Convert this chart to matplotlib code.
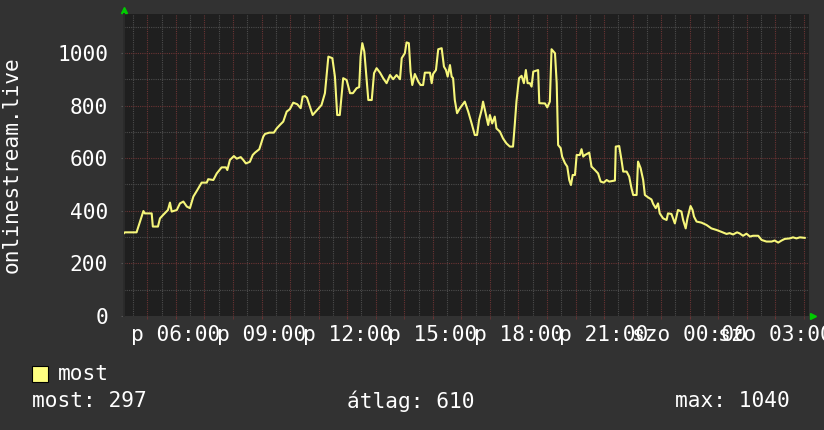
import matplotlib
matplotlib.use('Agg')
import matplotlib.pyplot as plt

# hours since friday 00:00 and concurrent listeners
hours = [4.18, 4.21, 4.62, 4.80, 4.86, 4.91, 5.15, 5.19, 5.37, 5.44,
         5.55, 5.72, 5.79, 5.85, 6.03, 6.14, 6.26, 6.38, 6.49, 6.61,
         6.75, 6.90, 7.08, 7.13, 7.31, 7.43, 7.60, 7.75, 7.80, 7.89,
         8.03, 8.13, 8.27, 8.36, 8.45, 8.59, 8.69, 8.77, 8.92, 9.06,
         9.12, 9.27, 9.43, 9.53, 9.64, 9.76, 9.88, 9.99, 10.11, 10.25,
         10.37, 10.44, 10.52, 10.59, 10.79, 11.10, 11.22, 11.34, 11.48, 11.57,
         11.65, 11.74, 11.86, 11.98, 12.10, 12.20, 12.33, 12.42, 12.47, 12.53,
         12.60, 12.68, 12.74, 12.86, 12.94, 13.03, 13.15, 13.26, 13.38, 13.50,
         13.61, 13.73, 13.85, 13.91, 14.02, 14.08, 14.16, 14.22, 14.28, 14.37,
         14.49, 14.57, 14.66, 14.72, 14.90, 14.96, 15.01, 15.11, 15.19, 15.31,
         15.39, 15.46, 15.52, 15.60, 15.66, 15.71, 15.77, 15.85, 15.95, 16.12,
         16.24, 16.36, 16.47, 16.55, 16.62, 16.71, 16.76, 16.85, 16.94, 17.00,
         17.08, 17.17, 17.23, 17.35, 17.46, 17.58, 17.70, 17.81, 17.87, 17.93,
         18.02, 18.11, 18.19, 18.26, 18.32, 18.40, 18.46, 18.52, 18.69, 18.73,
         18.93, 19.01, 19.10, 19.16, 19.28, 19.34, 19.39, 19.48, 19.53, 19.63,
         19.71, 19.78, 19.84, 19.90, 19.98, 20.04, 20.15, 20.21, 20.27, 20.33,
         20.48, 20.56, 20.68, 20.79, 20.88, 20.99, 21.09, 21.18, 21.38, 21.41,
         21.53, 21.61, 21.67, 21.79, 21.88, 21.96, 22.02, 22.14, 22.19, 22.28,
         22.37, 22.43, 22.54, 22.66, 22.72, 22.81, 22.89, 22.95, 23.07, 23.19,
         23.24, 23.36, 23.48, 23.59, 23.71, 23.77, 23.86, 23.92, 24.03, 24.10,
         24.15, 24.24, 24.41, 24.59, 24.76, 24.94, 25.11, 25.29, 25.40, 25.52,
         25.66, 25.75, 25.87, 25.99, 26.11, 26.22, 26.40, 26.52, 26.69, 26.87,
         26.98, 27.10, 27.22, 27.33, 27.51, 27.62, 27.74, 27.86, 28.03]
users = [315, 318, 318, 378, 399, 390, 390, 340, 340, 371,
         384, 403, 431, 397, 403, 428, 435, 416, 410, 454,
         479, 507, 507, 520, 517, 542, 565, 565, 555, 593,
         608, 598, 604, 593, 580, 586, 612, 621, 634, 682,
         692, 697, 697, 713, 726, 739, 777, 786, 811, 805,
         790, 834, 836, 830, 764, 802, 847, 986, 980, 910,
         764, 764, 904, 897, 847, 847, 866, 870, 986, 1037,
         1005, 897, 821, 821, 923, 942, 925, 904, 885, 916,
         900, 916, 900, 980, 999, 1040, 1037, 929, 878, 920,
         891, 878, 878, 925, 925, 885, 920, 935, 1014, 1018,
         948, 935, 910, 954, 910, 904, 821, 771, 790, 815,
         777, 732, 688, 688, 745, 783, 815, 771, 726, 764,
         732, 758, 713, 701, 675, 656, 644, 644, 726, 815,
         904, 913, 885, 935, 885, 885, 872, 929, 935, 809,
         808, 793, 815, 1014, 999, 885, 650, 638, 606, 581,
         568, 517, 498, 536, 536, 612, 612, 634, 606, 612,
         621, 568, 555, 542, 511, 507, 517, 511, 515, 644,
         646, 593, 549, 549, 530, 486, 460, 460, 587, 562,
         517, 460, 451, 443, 426, 410, 428, 390, 371, 365,
         390, 388, 352, 403, 397, 365, 333, 371, 418, 403,
         378, 359, 355, 346, 333, 327, 320, 312, 315, 310,
         318, 314, 305, 313, 302, 305, 305, 289, 283, 283,
         287, 279, 287, 293, 295, 299, 295, 299, 297]

tick_hours = [6, 9, 12, 15, 18, 21, 24, 27]
tick_labels = ['p 06:00', 'p 09:00', 'p 12:00', 'p 15:00',
               'p 18:00', 'p 21:00', 'szo 00:00', 'szo 03:00']
y_ticks = [0, 200, 400, 600, 800, 1000]
series_name = 'most'
stats = ['most: 297', 'átlag: 610', 'max: 1040']

FONT = 'DejaVu Sans Mono'
FS = 15.2
plt.rcParams['font.family'] = FONT

fig = plt.figure(figsize=(8.24, 4.30), dpi=100, facecolor='#323232')
ax = fig.add_axes([124 / 824, 1 - 316 / 430, 685 / 824, 302 / 430])
ax.set_facecolor('#1f1f1f')
t0 = hours[0]
ax.set_xlim(t0, t0 + 24)
ax.set_ylim(0, 1148)

# grid: gray every 30 min / 100, red every hour / 200
dot = (0, (1, 1))
h = int(t0)
while h <= t0 + 24:
    for x, c in ((h, '#6a3434'), (h + 0.5, '#4c4c4c')):
        if t0 < x < t0 + 24:
            ax.axvline(x, color=c, lw=0.8, ls=dot, zorder=1)
    h += 1
for v in range(100, 1148, 100):
    ax.axhline(v, color='#6a3434' if v % 200 == 0 else '#4c4c4c',
               lw=0.8, ls=dot, zorder=1)

ax.plot(hours, users, color='#f6f67a', lw=1.5, zorder=3)

for s in ax.spines.values():
    s.set_visible(False)
ax.spines['left'].set_visible(True)
ax.spines['left'].set_color('#2b2b2b')
ax.spines['left'].set_linewidth(1.4)

ax.set_xticks(tick_hours)
ax.set_xticklabels(tick_labels)
ax.set_xticks([x for x in range(5, 29) if x not in tick_hours], minor=True)
ax.set_yticks(y_ticks)
ax.set_yticklabels([str(v) for v in y_ticks])
ax.tick_params(axis='x', which='both', length=2, color='#6a3434',
               labelsize=FS, labelcolor='white', pad=4.5)
ax.tick_params(axis='y', length=2, color='#555555',
               labelsize=FS, labelcolor='white', pad=9.5)

# green arrows at axis ends
ax.plot([t0], [1.013 * 1148], marker='^', ms=4.5, color='#00cc00',
        clip_on=False, lw=0)
ax.plot([t0 + 24 * 1.006], [1.5], marker='>', ms=4.5, color='#00cc00',
        clip_on=False, lw=0)

fig.text(12 / 824, 1 - 165 / 430, 'onlinestream.live', rotation=90,
         ha='center', va='center', color='white', fontsize=FS)

# legend
fig.patches.append(plt.Rectangle((32 / 824, 1 - 382 / 430), 16 / 824, 16 / 430,
                                 transform=fig.transFigure,
                                 facecolor='#ffff80', edgecolor='black',
                                 lw=0.8))
fig.text(58 / 824, 1 - 374 / 430, series_name, ha='left', va='center',
         color='white', fontsize=FS)
fig.text(32 / 824, 1 - 401 / 430, stats[0], ha='left', va='center',
         color='white', fontsize=FS)
fig.text(347 / 824, 1 - 401 / 430, stats[1], ha='left', va='center',
         color='white', fontsize=FS)
fig.text(675 / 824, 1 - 401 / 430, stats[2], ha='left', va='center',
         color='white', fontsize=FS)

fig.savefig('out.png', dpi=100, facecolor=fig.get_facecolor())
